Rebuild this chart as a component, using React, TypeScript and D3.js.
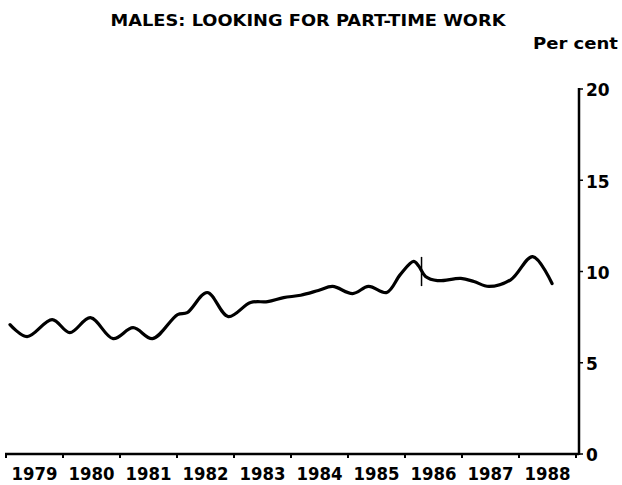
import { useEffect, useRef } from 'react';
import * as d3 from 'd3';

// Males looking for part-time work, per cent
const times = [
  1979.07, 1979.37, 1979.81, 1980.12, 1980.48, 1980.88, 1981.23, 1981.57,
  1982.01, 1982.18, 1982.53, 1982.9, 1983.29, 1983.59, 1983.87, 1984.17,
  1984.48, 1984.73, 1985.08, 1985.36, 1985.68, 1985.92, 1986.15, 1986.24,
  1986.36, 1986.57, 1986.98, 1987.21, 1987.47, 1987.86, 1988.24, 1988.58,
];
const values = [
  7.09, 6.43, 7.36, 6.65, 7.47, 6.32, 6.92, 6.32,
  7.64, 7.75, 8.85, 7.53, 8.3, 8.35, 8.57, 8.7,
  8.96, 9.18, 8.79, 9.18, 8.85, 9.84, 10.55, 10.3,
  9.73, 9.5, 9.62, 9.45, 9.18, 9.56, 10.82, 9.34,
];
const breakAt = 1986.29;
const yearLabels = ['1979', '1980', '1981', '1982', '1983', '1984', '1985', '1986', '1987', '1988'];
const yTicks = [0, 5, 10, 15, 20];

const FONT = '"DejaVu Sans", sans-serif';

const App = () => {
  const svgRef = useRef<SVGSVGElement>(null);

  useEffect(() => {
    const svg = d3.select(svgRef.current);
    svg.selectAll('*').remove();

    const x = d3.scaleLinear().domain([1979, 1989]).range([6, 576]);
    const y = d3.scaleLinear().domain([0, 20]).range([454, 89]);

    // title
    svg.append('text')
      .attr('x', 308).attr('y', 26)
      .attr('text-anchor', 'middle')
      .attr('font-family', FONT).attr('font-weight', 'bold')
      .attr('font-size', 15)
      .attr('textLength', 395).attr('lengthAdjust', 'spacingAndGlyphs')
      .text('MALES: LOOKING FOR PART-TIME WORK');

    svg.append('text')
      .attr('x', 533).attr('y', 49)
      .attr('font-family', FONT).attr('font-weight', 'bold')
      .attr('font-size', 16)
      .attr('textLength', 85).attr('lengthAdjust', 'spacingAndGlyphs')
      .text('Per cent');

    // x axis
    const xAxis = svg.append('g').attr('transform', `translate(0,${y(0)})`);
    xAxis.append('line')
      .attr('x1', 5).attr('x2', x(1989) + 3)
      .attr('stroke', '#000').attr('stroke-width', 2.5);
    xAxis.selectAll('.xt')
      .data(d3.range(1979, 1990))
      .enter().append('line')
      .attr('x1', d => x(d)).attr('x2', d => x(d))
      .attr('y1', 0).attr('y2', 4)
      .attr('stroke', '#000').attr('stroke-width', 2);
    xAxis.selectAll('.xl')
      .data(yearLabels)
      .enter().append('text')
      .attr('x', d => x(+d + 0.5) - 23)
      .attr('y', 26)
      .attr('font-family', FONT).attr('font-weight', 'bold')
      .attr('font-size', 17)
      .attr('textLength', 46).attr('lengthAdjust', 'spacingAndGlyphs')
      .text(d => d);

    // y axis on the right
    const yAxis = svg.append('g').attr('transform', `translate(${x(1989) + 3},0)`);
    yAxis.append('line')
      .attr('y1', y(20) - 1).attr('y2', y(0) + 1)
      .attr('stroke', '#000').attr('stroke-width', 2.5);
    yAxis.selectAll('.yt')
      .data(yTicks)
      .enter().append('line')
      .attr('x1', 0).attr('x2', 4)
      .attr('y1', d => y(d)).attr('y2', d => y(d))
      .attr('stroke', '#000').attr('stroke-width', 1.5);
    yAxis.selectAll('.yl')
      .data(yTicks)
      .enter().append('text')
      .attr('x', 7)
      .attr('y', d => y(d) + 1)
      .attr('dy', '0.38em')
      .attr('font-family', FONT).attr('font-weight', 'bold')
      .attr('font-size', 17)
      .text(d => d);

    // series line
    const data = times.map((t, i) => ({ t, v: values[i] }));
    const line = d3.line<{ t: number; v: number }>()
      .x(d => x(d.t))
      .y(d => y(d.v))
      .curve(d3.curveCatmullRom.alpha(0.5));

    svg.append('path')
      .datum(data)
      .attr('fill', 'none')
      .attr('stroke', '#000')
      .attr('stroke-width', 3.2)
      .attr('stroke-linejoin', 'round')
      .attr('stroke-linecap', 'round')
      .attr('d', line);

    // series break marker
    svg.append('line')
      .attr('x1', x(breakAt)).attr('x2', x(breakAt))
      .attr('y1', y(10.8)).attr('y2', y(9.2))
      .attr('stroke', '#000').attr('stroke-width', 1.5);
  }, []);

  return (
    <svg
      ref={svgRef}
      width={622}
      height={485}
      style={{ position: 'absolute', left: 0, top: 0, background: '#fff' }}
    />
  );
};

export default App;
